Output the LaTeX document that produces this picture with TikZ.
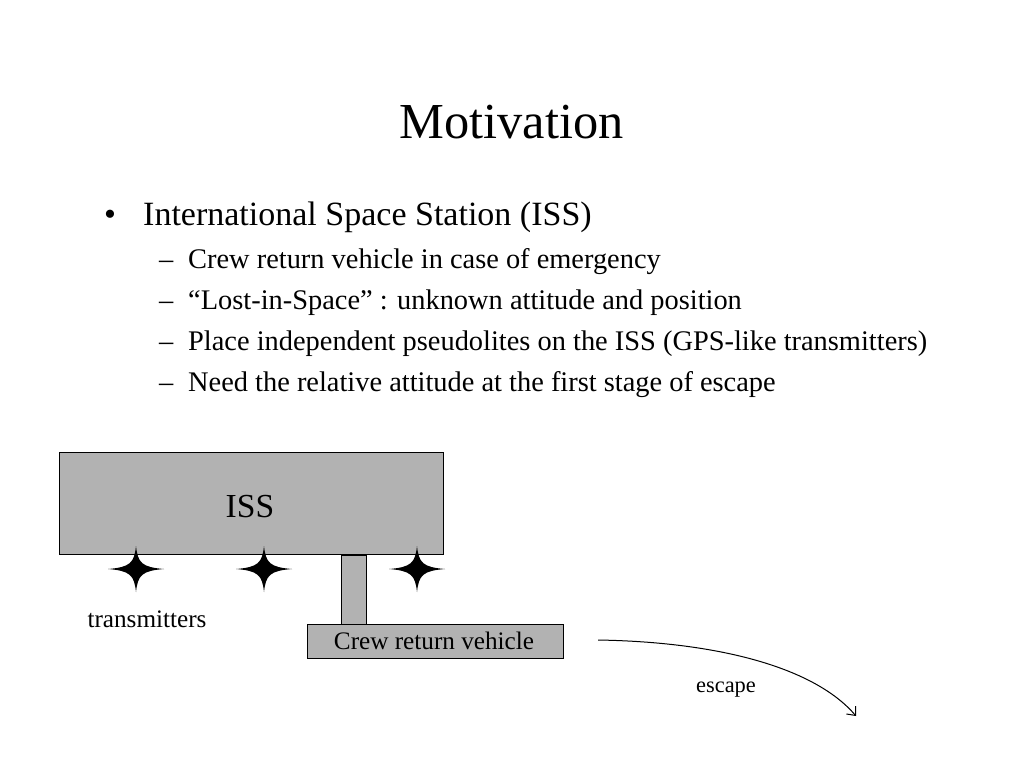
\documentclass[tikz,border=0pt]{standalone}
\usepackage{fontspec}
\setmainfont{Liberation Serif}
\usetikzlibrary{arrows.meta}
\definecolor{boxgray}{HTML}{B2B2B2}
\tikzset{
  txt/.style={inner sep=0pt, anchor=base west},
  boxshape/.style={draw=black, line width=1pt, fill=boxgray, inner sep=0pt},
  starshape/.style={fill=black},
}
\newcommand{\fourstar}[2]{%
  \fill[starshape] (#1+28,#2) .. controls (#1+6,#2-1.8) and (#1+1.8,#2-6) .. (#1,#2-23)
    .. controls (#1-1.8,#2-6) and (#1-6,#2-1.8) .. (#1-28,#2)
    .. controls (#1-6,#2+1.8) and (#1-1.8,#2+6) .. (#1,#2+23)
    .. controls (#1+1.8,#2+6) and (#1+6,#2+1.8) .. cycle;}
\begin{document}
\begin{tikzpicture}[x=1pt,y=-1pt]
\useasboundingbox[fill=white] (0,0) rectangle (1024,768);
% title
\node[inner sep=0pt, anchor=base] (title) at (511.5,138) {\fontsize{50.4}{60}\selectfont Motivation};
% bullets
\node[txt] (b0) at (104,225) {\fontsize{34}{40}\selectfont •};
\node[txt] (t0) at (143,225) {\fontsize{34}{40}\selectfont International Space Station (ISS)};
\node[txt] (d1) at (159,268) {\fontsize{28.4}{34}\selectfont –};
\node[txt] (t1) at (188,268) {\fontsize{28.4}{34}\selectfont Crew return vehicle in case of emergency};
\node[txt] (d2) at (159,309) {\fontsize{28.4}{34}\selectfont –};
\node[txt] (t2) at (188,309) {\fontsize{28.4}{34}\selectfont “Lost-in-Space” : unknown attitude and position};
\node[txt] (d3) at (159,350) {\fontsize{28.4}{34}\selectfont –};
\node[txt] (t3) at (188,350) {\fontsize{28.4}{34}\selectfont Place independent pseudolites on the ISS (GPS-like transmitters)};
\node[txt] (d4) at (159,391) {\fontsize{28.4}{34}\selectfont –};
\node[txt] (t4) at (188,391) {\fontsize{28.4}{34}\selectfont Need the relative attitude at the first stage of escape};
% diagram
\node[boxshape, minimum width=25pt, minimum height=70pt] (pillar) at (353.5,590) {};
\node[boxshape, minimum width=384pt, minimum height=102pt] (iss) at (251,503.5) {};
\node[inner sep=0pt, anchor=base] (isslabel) at (250,517) {\fontsize{33.6}{40}\selectfont ISS};
\node[boxshape, minimum width=256pt, minimum height=34pt] (crv) at (435,641) {};
\node[inner sep=0pt, anchor=base] (crvlabel) at (434,649.5) {\fontsize{25.2}{30}\selectfont Crew return vehicle};
\fourstar{136}{569}
\fourstar{264}{569}
\fourstar{417}{569}
\node[inner sep=0pt, anchor=base] (trans) at (147,627) {\fontsize{25.2}{30}\selectfont transmitters};
\coordinate (escA) at (598,640);
\coordinate (escB) at (856,716);
\draw[line width=1pt, -{Straight Barb[length=7pt,width=12pt]}] (escA) .. controls (720,642) and (815,668) .. (escB);
\node[inner sep=0pt, anchor=base] (esc) at (726,692) {\fontsize{22.4}{27}\selectfont escape};
\end{tikzpicture}
\end{document}
